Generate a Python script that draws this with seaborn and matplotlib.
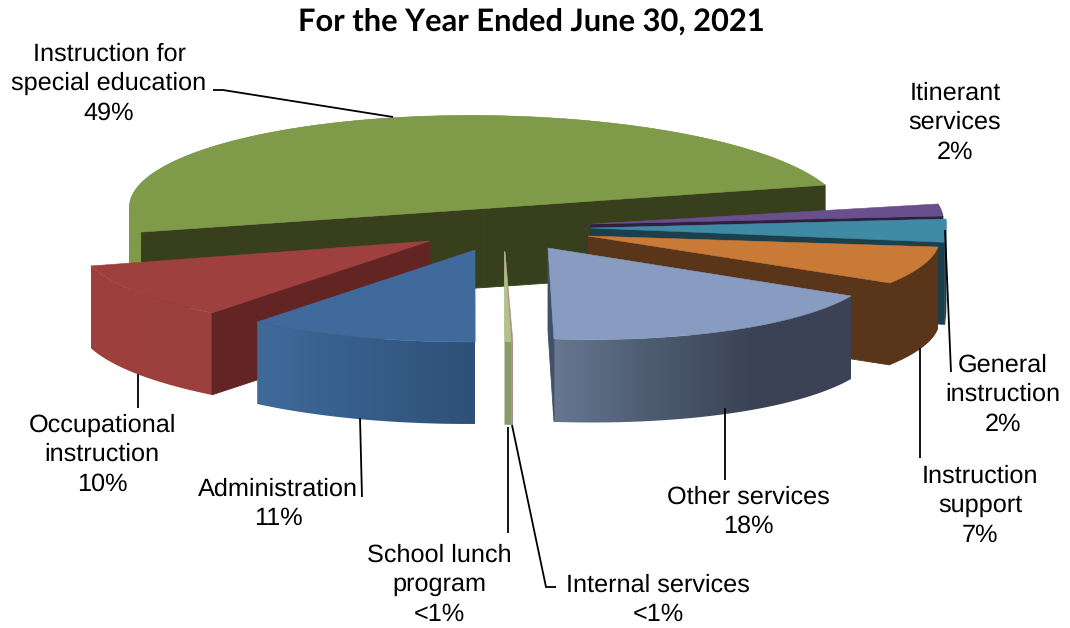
import numpy as np
import matplotlib
matplotlib.use("Agg")
import matplotlib.pyplot as plt
import seaborn as sns
from matplotlib.patches import Polygon, PathPatch
from matplotlib.path import Path

# Share of expenses by function, in percent, counter-clockwise from the back right
categories = ["Instruction for\nspecial education", "Occupational\ninstruction", "Administration",
              "School lunch\nprogram", "Internal services", "Other services",
              "Instruction\nsupport", "General\ninstruction", "Itinerant\nservices"]
shares = [49, 10, 11, 0.5, 0.5, 18, 7, 2, 2]
share_labels = ["49%", "10%", "11%", "<1%", "<1%", "18%", "7%", "2%", "2%"]

START_ANGLE = 14.0

sns.set_theme(style="white")
plt.rcParams["font.family"] = ["Liberation Sans", "DejaVu Sans"]
plt.rcParams["text.hinting"] = "no_hinting"

# Exploded position and projected ellipse of each slice: centre x, y and the
# screen-space basis (a, c, d, b) of the unit disc
geometry = [
    (486.5, 211.5, 356.0, -28.0, -3.3, 96.0),
    (430.0, 241.0, 351.0, -33.0, -8.7, 91.0),
    (475.0, 250.0, 341.0, -24.0, -8.2, 91.6),
    (504.5, 251.0, 206.0, -14.4, 0.0, 91.0),
    (505.0, 252.0, 48.0, -8.3, 0.0, 90.0),
    (548.0, 248.0, 332.0, -8.3, 9.6, 91.0),
    (588.0, 236.0, 350.2, 32.0, 10.4, 87.0),
    (591.0, 228.0, 354.0, 30.0, 13.0, 185.0),
    (591.0, 224.0, 351.6, 24.0, 3.4, 96.5),
]
depths = [79, 82, 82, 83, 83, 83, 82, 82, 82]
# top face, cut face, outer wall colour stops from left to right
colors = [
    ("#7f9a49", "#373f1d", ["#7f9a49", "#7f9a49"]),
    ("#9e413e", "#622524", ["#9e413e", "#9c403d"]),
    ("#40699c", "#2a4a70", ["#3f6a9a", "#2e5078"]),
    ("#b0c48a", "#7f8f5f", ["#8a9a68", "#8a9a68"]),
    ("#b09088", "#b09088", ["#a98c85", "#a98c85"]),
    ("#879cc0", "#3f5068", ["#66778f", "#4d5b71", "#3b4255", "#3b4255"]),
    ("#c97a36", "#59351a", ["#59351a", "#59351a"]),
    ("#3f8aa4", "#1c3f4b", ["#1c3f4b", "#1c3f4b"]),
    ("#69508c", "#2f2040", ["#2f2040", "#2f2040"]),
]
draw_order = [0, 8, 7, 6, 5, 1, 2, 4, 3]

# Label anchor (centre x, first line y) for each slice
label_xy = [(109, 54), (102, 425), (278, 489), (439, 555), (658, 585),
            (748, 497), (980, 476), (1003, 365), (955, 93)]
leaders = [
    [(213, 90), (223, 90), (393, 117)],
    [(138, 374), (138, 408)],
    [(360, 418), (362, 497)],
    [(508, 427), (508, 533)],
    [(512, 425), (546, 587), (556, 587)],
    [(725, 408), (725, 480)],
    [(920, 348), (920, 458)],
    [(945, 230), (951, 372)],
]

fig = plt.figure(figsize=(10.7, 6.28), dpi=100)
ax = fig.add_axes([0, 0, 1, 1])
ax.set_xlim(0, 1070)
ax.set_ylim(628, 0)
ax.set_autoscale_on(False)
ax.axis("off")

layer = [1]


def next_layer():
    layer[0] += 1
    return layer[0]


def rim(geo, t):
    """Project angles (radians) on the slice's upper rim."""
    vx, vy, a, c, d, b = geo
    return np.column_stack([vx + a * np.cos(t) + c * np.sin(t),
                            vy + d * np.cos(t) - b * np.sin(t)])


def draw_wall(arc, drop, stops):
    """Outer wall: a horizontal gradient clipped to the swept rim."""
    pieces = []
    for p, q in zip(arc[:-1], arc[1:]):
        # keep every quad wound the same way so overlaps add up in the fill
        if q[0] < p[0]:
            p, q = q, p
        pieces.append(Path([p, q, q + drop, p + drop, p],
                           [Path.MOVETO, Path.LINETO, Path.LINETO, Path.LINETO, Path.CLOSEPOLY]))
    wall = Path.make_compound_path(*pieces)
    z = next_layer()
    outline = PathPatch(wall, fc="none", ec="none", zorder=z)
    ax.add_patch(outline)
    ramp = np.array(sns.blend_palette(stops, 256))[:, :3].reshape(1, 256, 3)
    top_y = arc[:, 1].min()
    low_y = arc[:, 1].max() + drop[1]
    image = ax.imshow(ramp, extent=(arc[:, 0].min(), arc[:, 0].max(), low_y, top_y),
                      aspect="auto", interpolation="bilinear", zorder=z)
    image.set_clip_path(outline)


def draw_slice(geo, t0, t1, depth, palette):
    top, cut, stops = palette
    drop = np.array([0.0, depth])
    arc = rim(geo, np.radians(np.linspace(t0, t1, 240)))

    # a slice of nearly half the disc is cut along one straight chord
    hub = np.array(geo[:2]) if t1 - t0 < 170 else 0.5 * (arc[0] + arc[-1])

    draw_wall(arc, drop, stops)

    # radial cut faces that turn towards the viewer
    mid = rim(geo, np.radians([0.5 * (t0 + t1)]))[0] - hub
    for end in (arc[0], arc[-1]):
        edge = end - hub
        if abs(edge[0]) < 1e-3:
            continue
        if (edge[0] * mid[1] - edge[1] * mid[0]) / edge[0] < 0:
            ax.add_patch(Polygon([hub, end, end + drop, hub + drop], closed=True,
                                 fc=cut, ec=cut, lw=0.6, zorder=next_layer()))

    ax.add_patch(Polygon(np.vstack([hub, arc]), closed=True, fc=top, ec=top, lw=0.4,
                         zorder=next_layer()))


ends = START_ANGLE + 3.6 * np.cumsum(shares)
starts = np.concatenate([[START_ANGLE], ends[:-1]])
for i in draw_order:
    draw_slice(geometry[i], starts[i], ends[i], depths[i], colors[i])

for path in leaders:
    xs, ys = zip(*path)
    ax.plot(xs, ys, color="black", lw=1.3, solid_capstyle="butt", solid_joinstyle="miter",
            zorder=next_layer())

for name, pct, (x, y) in zip(categories, share_labels, label_xy):
    for k, line in enumerate(name.split("\n") + [pct]):
        ax.text(x, y + 29.5 * k, line, ha="center", va="center", fontsize=18.2, color="black",
                zorder=next_layer())

ax.text(531, 22, "For the Year Ended June 30, 2021", ha="center", va="center",
        fontsize=22.2, fontweight="bold", family="Lato", color="black", zorder=next_layer())

fig.savefig("out.png", dpi=100, facecolor="white")
